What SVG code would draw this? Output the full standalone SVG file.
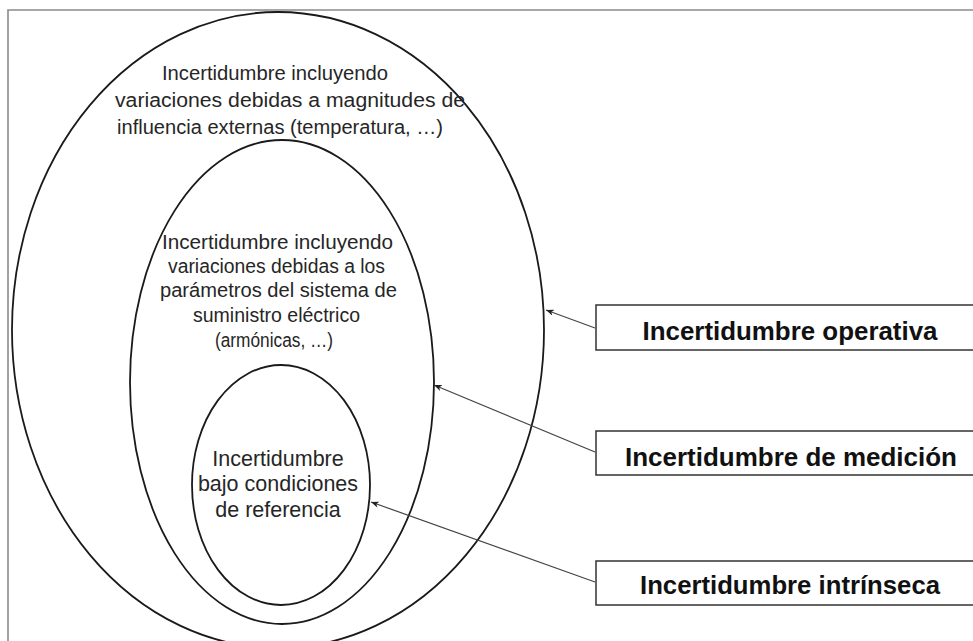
<svg xmlns="http://www.w3.org/2000/svg" width="973" height="641" viewBox="0 0 973 641">
  <defs>
    <style>
      .ell { fill: none; stroke: #1a1a1a; stroke-width: 1.8; }
      .t { font-family: "Liberation Sans", Arial, sans-serif; font-size: 20px; fill: #262626; text-anchor: middle; }
      .ti { font-family: "Liberation Sans", Arial, sans-serif; font-size: 21.5px; fill: #262626; text-anchor: middle; }
      .box { fill: #fff; stroke: #333; stroke-width: 1.5; }
      .bt { font-family: "Liberation Sans", Arial, sans-serif; font-size: 26px; font-weight: bold; fill: #111; text-anchor: middle; }
      .conn { stroke: #444; stroke-width: 1.2; fill: none; marker-end: url(#arr); }
    </style>
    <marker id="arr" viewBox="0 0 10 8" refX="10" refY="4" markerWidth="8" markerHeight="6.4" markerUnits="userSpaceOnUse" orient="auto">
      <path d="M0,0 L10,4 L0,8 L3,4 z" fill="#222"/>
    </marker>
  </defs>
  <rect width="973" height="641" fill="#fff"/>
  <path d="M8,641 V10 H973" fill="none" stroke="#8a8a8a" stroke-width="1.6"/>

  <g id="outer">
    <ellipse class="ell" cx="278" cy="330" rx="266" ry="318"/>
    <text class="t" x="275" y="80" textLength="226" lengthAdjust="spacingAndGlyphs">Incertidumbre incluyendo</text>
    <text class="t" x="290" y="107" textLength="350" lengthAdjust="spacingAndGlyphs">variaciones debidas a magnitudes de</text>
    <text class="t" x="280" y="134" textLength="326" lengthAdjust="spacingAndGlyphs">influencia externas (temperatura, …)</text>
  </g>

  <g id="middle">
    <ellipse class="ell" cx="282" cy="382" rx="152" ry="242"/>
    <text class="t" x="277.5" y="249" textLength="231" lengthAdjust="spacingAndGlyphs">Incertidumbre incluyendo</text>
    <text class="t" x="276.5" y="273" textLength="217" lengthAdjust="spacingAndGlyphs">variaciones debidas a los</text>
    <text class="t" x="278.5" y="297" textLength="237" lengthAdjust="spacingAndGlyphs">parámetros del sistema de</text>
    <text class="t" x="276.5" y="322" textLength="167" lengthAdjust="spacingAndGlyphs">suministro eléctrico</text>
    <text class="t" x="274" y="347" textLength="118" lengthAdjust="spacingAndGlyphs">(armónicas, …)</text>
  </g>

  <g id="inner">
    <ellipse class="ell" cx="281" cy="485" rx="89" ry="120"/>
    <text class="ti" x="278" y="466">Incertidumbre</text>
    <text class="ti" x="278" y="491">bajo condiciones</text>
    <text class="ti" x="278" y="517">de referencia</text>
  </g>

  <g id="box-operativa">
    <rect class="box" x="596" y="305" width="380" height="45"/>
    <text class="bt" x="790" y="340" textLength="295" lengthAdjust="spacingAndGlyphs">Incertidumbre operativa</text>
  </g>
  <g id="box-medicion">
    <rect class="box" x="596" y="431" width="380" height="44"/>
    <text class="bt" x="791" y="466" textLength="332" lengthAdjust="spacingAndGlyphs">Incertidumbre de medición</text>
  </g>
  <g id="box-intrinseca">
    <rect class="box" x="596" y="561" width="380" height="44"/>
    <text class="bt" x="790" y="594" textLength="300" lengthAdjust="spacingAndGlyphs">Incertidumbre intrínseca</text>
  </g>

  <g id="connectors">
    <line class="conn" x1="595" y1="328" x2="546" y2="310"/>
    <line class="conn" x1="595" y1="452" x2="434" y2="385"/>
    <line class="conn" x1="595" y1="582" x2="371" y2="502"/>
  </g>
</svg>
